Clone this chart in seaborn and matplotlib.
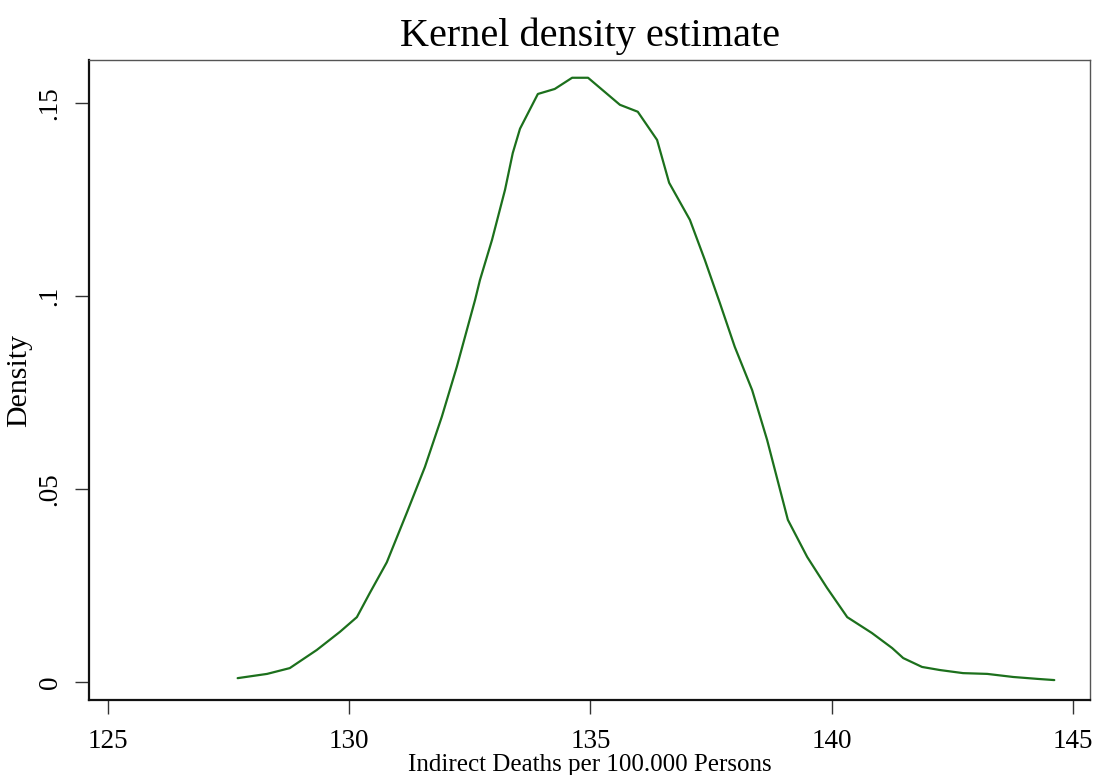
import matplotlib
matplotlib.use("Agg")
import matplotlib.pyplot as plt
import seaborn as sns
import pandas as pd

# Data
deaths = [127.69, 128.30, 128.77, 129.33, 129.81, 130.16, 130.43, 130.78, 131.20,
          131.57, 131.92, 132.23, 132.61, 132.71, 132.96, 133.23, 133.39, 133.54,
          133.91, 134.26, 134.62, 134.95, 135.61, 135.98, 136.38, 136.63, 137.06,
          137.37, 137.68, 137.99, 138.35, 138.66, 138.93, 139.09, 139.49, 139.90,
          140.32, 140.83, 141.25, 141.48, 141.87, 142.24, 142.72, 143.22, 143.76,
          144.27, 144.61]
density = [0.0010, 0.0021, 0.0036, 0.0083, 0.0130, 0.0168, 0.0231, 0.0310, 0.0440,
           0.0557, 0.0687, 0.0816, 0.0990, 0.1041, 0.1145, 0.1275, 0.1370, 0.1433,
           0.1523, 0.1536, 0.1565, 0.1565, 0.1495, 0.1477, 0.1404, 0.1293, 0.1197,
           0.1093, 0.0982, 0.0868, 0.0756, 0.0627, 0.0497, 0.0420, 0.0324, 0.0244,
           0.0168, 0.0127, 0.0088, 0.0062, 0.0039, 0.0031, 0.0023, 0.0021, 0.0013,
           0.0008, 0.0005]

x_ticks = [125, 130, 135, 140, 145]
y_ticks = [0, 0.05, 0.10, 0.15]
y_tick_labels = ["0", ".05", ".1", ".15"]

title = "Kernel density estimate"
x_label = "Indirect Deaths per 100.000 Persons"
y_label = "Density"

df = pd.DataFrame({"x": deaths, "y": density})

sns.set_style("white")
plt.rcParams["font.family"] = ["Liberation Serif", "DejaVu Serif"]
plt.rcParams["text.color"] = "black"
plt.rcParams["xtick.color"] = "black"
plt.rcParams["ytick.color"] = "black"
plt.rcParams["axes.labelcolor"] = "black"

fig = plt.figure(figsize=(10.94, 7.75), dpi=100)
ax = fig.add_axes([89 / 1094, 1 - 700 / 775, (1090 - 89) / 1094, (700 - 60) / 775])

sns.lineplot(data=df, x="x", y="y", ax=ax, color="#1c701c", linewidth=1.6, sort=False)

ax.set_xlim(124.61, 145.35)
ax.set_ylim(-0.00466, 0.1611)
ax.set_xticks(x_ticks)
ax.set_xticklabels([str(t) for t in x_ticks], fontsize=19.5)
ax.set_yticks(y_ticks)
ax.set_yticklabels(y_tick_labels, fontsize=19.5, rotation=90, va="center")

ax.tick_params(axis="both", direction="out", length=10, width=1.0,
               bottom=True, left=True)
ax.tick_params(axis="x", pad=11)
ax.tick_params(axis="y", pad=9)
for t in ax.get_xticklines() + ax.get_yticklines():
    t.set_markeredgecolor("#333333")

for side in ["left", "bottom"]:
    ax.spines[side].set_color("#111111")
    ax.spines[side].set_linewidth(1.6)
for side in ["top", "right"]:
    ax.spines[side].set_color("#555555")
    ax.spines[side].set_linewidth(1.0)
    ax.spines[side].set_visible(True)

ax.set_title(title, fontsize=29, pad=10)
ax.set_xlabel(x_label, fontsize=18, labelpad=0)
ax.set_ylabel(y_label, fontsize=21.5, labelpad=4)

fig.savefig("out.png", dpi=100, facecolor="white")
